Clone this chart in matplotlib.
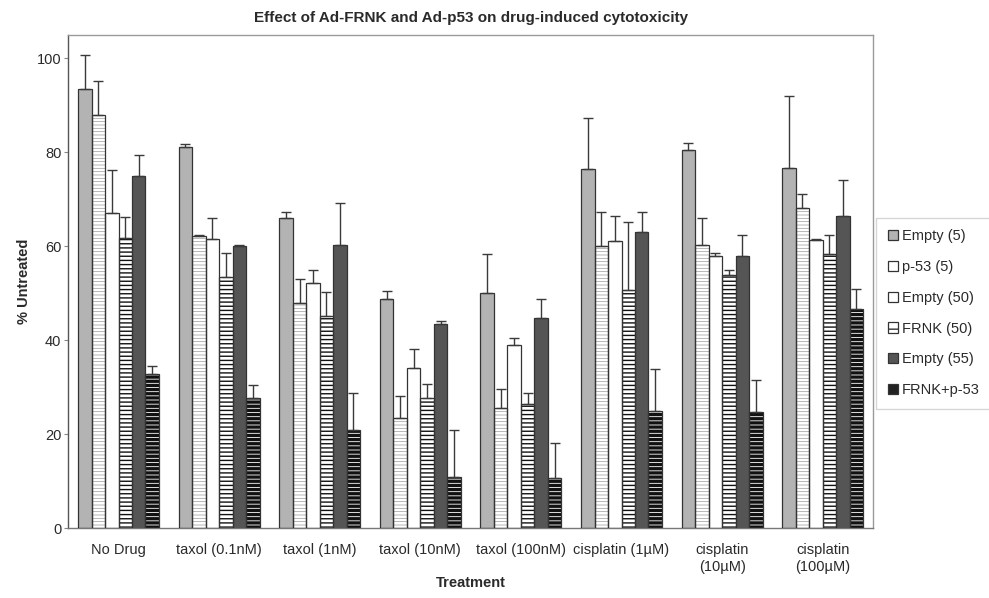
import numpy as np
import matplotlib
matplotlib.use('Agg')
import matplotlib.pyplot as plt
from matplotlib.patches import Patch

plt.rcParams['font.family'] = ['Liberation Sans', 'DejaVu Sans']

treatments = ['No Drug', 'taxol (0.1nM)', 'taxol (1nM)', 'taxol (10nM)', 'taxol (100nM)',
              'cisplatin (1µM)', 'cisplatin\n(10µM)', 'cisplatin\n(100µM)']
series = ['Empty (5)', 'p-53 (5)', 'Empty (50)', 'FRNK (50)', 'Empty (55)', 'FRNK+p-53']

# mean % untreated, one list per series (order follows treatments)
empty5 = [93.4, 81.1, 66.1, 48.7, 50.0, 76.4, 80.5, 76.7]
p53_5 = [87.9, 62.1, 47.9, 23.4, 25.5, 60.0, 60.2, 68.1]
empty50 = [67.0, 61.5, 52.1, 34.0, 38.9, 61.1, 57.9, 61.3]
frnk50 = [61.7, 53.4, 45.1, 27.7, 26.4, 50.6, 53.8, 58.3]
empty55 = [74.9, 60.0, 60.2, 43.4, 44.7, 63.0, 57.9, 66.4]
frnk_p53 = [32.8, 27.7, 20.9, 10.9, 10.6, 25.0, 24.8, 46.7]

# upper error bars
empty5_err = [7.4, 0.6, 1.3, 1.7, 8.3, 11.0, 1.4, 15.4]
p53_5_err = [7.4, 0.2, 5.1, 4.7, 4.1, 7.2, 5.8, 3.0]
empty50_err = [9.2, 4.5, 2.8, 4.1, 1.5, 5.4, 0.6, 0.3]
frnk50_err = [4.5, 5.1, 5.1, 2.9, 2.3, 14.5, 1.1, 4.2]
empty55_err = [4.5, 0.2, 9.0, 0.6, 4.0, 4.2, 4.6, 7.8]
frnk_p53_err = [1.7, 2.7, 7.8, 10.0, 7.5, 8.8, 6.7, 4.1]

means = [empty5, p53_5, empty50, frnk50, empty55, frnk_p53]
errs = [empty5_err, p53_5_err, empty50_err, frnk50_err, empty55_err, frnk_p53_err]

# face, hatch, hatch colour, hatch linewidth
styles = [
    ('#b3b3b3', None, None, 0),
    ('white', '-----', '#9a9a9a', 0.5),
    ('white', None, None, 0),
    ('white', '----', '#111111', 1.0),
    ('#555555', None, None, 0),
    ('white', '----', '#111111', 2.4),
]

text_col = '#2a2a2a'
edge_col = '#333333'

fig = plt.figure(figsize=(9.89, 5.98), dpi=100)
ax = fig.add_axes([0.069, 0.117, 0.8137, 0.8245])

x = np.arange(len(treatments))
w = 0.134
offsets = (np.arange(len(series)) - 2.5) * w

for i in range(len(series)):
    face, hatch, hcol, hlw = styles[i]
    pos = x + offsets[i]
    if hatch:
        with plt.rc_context({'hatch.linewidth': hlw}):
            bars = ax.bar(pos, means[i], width=w, color=face, edgecolor=hcol,
                          hatch=hatch, linewidth=0, zorder=2)
            for b in bars:
                if hasattr(b, 'set_hatch_linewidth'):
                    b.set_hatch_linewidth(hlw)
    else:
        ax.bar(pos, means[i], width=w, color=face, linewidth=0, zorder=2)
    ax.bar(pos, means[i], width=w, facecolor='none', edgecolor=edge_col,
           linewidth=0.9, zorder=3)
    ax.errorbar(pos, means[i], yerr=[np.zeros(len(x)), errs[i]], fmt='none',
                ecolor='#3a3a3a', elinewidth=1.0, capsize=3.5, capthick=1.0, zorder=4)

ax.set_xlim(-0.5, len(treatments) - 0.5)
ax.set_ylim(0, 105)
ax.set_yticks(np.arange(0, 101, 20))
ax.set_xticks(x)
ax.set_xticklabels(treatments, fontsize=10.5, color=text_col)
ax.tick_params(axis='x', length=0, pad=11)
ax.tick_params(axis='y', labelsize=10.5, labelcolor=text_col, length=3,
               color='#888888', pad=2)

for s in ax.spines.values():
    s.set_color('#9a9a9a')
    s.set_linewidth(1.0)
ax.spines['left'].set_color('#555555')
ax.spines['bottom'].set_color('#777777')

ax.set_title('Effect of Ad-FRNK and Ad-p53 on drug-induced cytotoxicity',
             fontsize=11, fontweight='bold', color=text_col, pad=9)
ax.set_xlabel('Treatment', fontsize=10.5, fontweight='bold', color=text_col, labelpad=2)
ax.set_ylabel('% Untreated', fontsize=10.5, fontweight='bold', color=text_col, labelpad=4)

handles = []
for i in range(len(series)):
    face, hatch, hcol, hlw = styles[i]
    if i == 5:
        face = '#222222'
    handles.append(Patch(facecolor=face, edgecolor=edge_col, linewidth=0.9,
                         hatch='--' if i == 3 else None))
leg = fig.legend(handles, series, loc='upper left', bbox_to_anchor=(0.886, 0.636),
                 fontsize=10.5, frameon=True, fancybox=False, handlelength=0.7,
                 handleheight=0.7, handletextpad=0.25, labelspacing=1.15,
                 borderpad=0.8, borderaxespad=0)
leg.get_frame().set_edgecolor('#cccccc')
leg.get_frame().set_linewidth(1.0)
for t in leg.get_texts():
    t.set_color(text_col)

fig.savefig('out.png', dpi=100)
